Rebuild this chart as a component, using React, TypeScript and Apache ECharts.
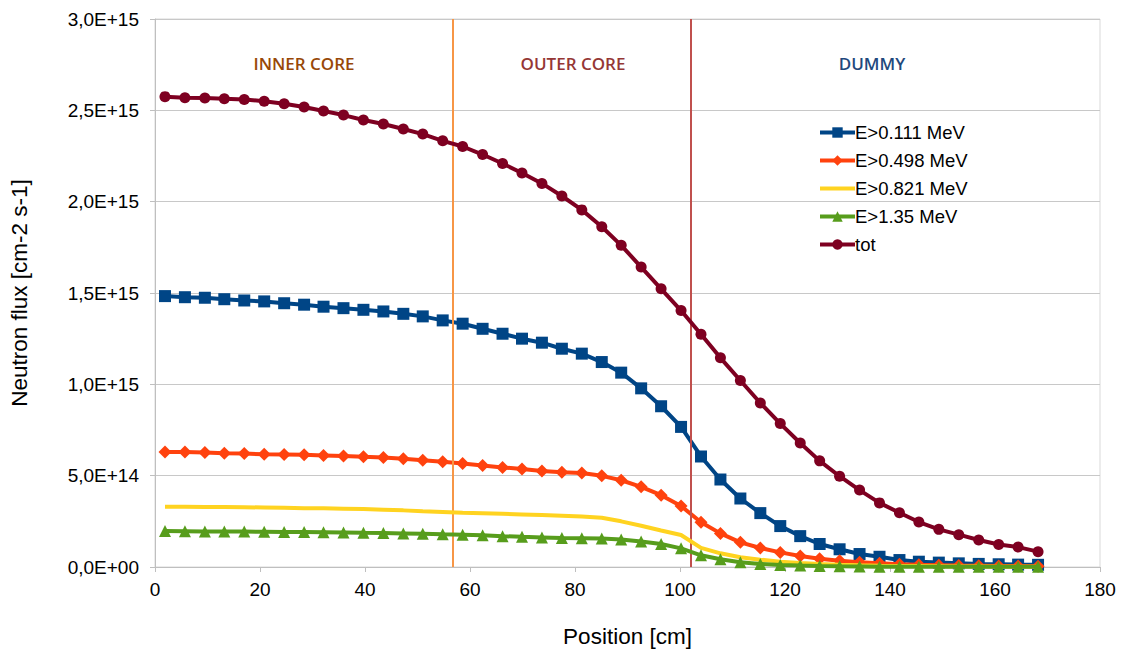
import React, { useEffect, useRef } from "react";
import * as echarts from "echarts";

const positions = [1.9, 5.7, 9.5, 13.2, 17.0, 20.8, 24.6, 28.4, 32.1, 35.9, 39.7, 43.5, 47.3, 51.0, 54.8, 58.6, 62.4, 66.2, 69.9, 73.7, 77.5, 81.3, 85.1, 88.8, 92.6, 96.4, 100.2, 104.0, 107.7, 111.5, 115.3, 119.1, 122.9, 126.6, 130.4, 134.2, 138.0, 141.8, 145.5, 149.3, 153.1, 156.9, 160.7, 164.4, 168.2];

// values in units of 1E+15
const e0111 = [1.483, 1.477, 1.474, 1.466, 1.459, 1.454, 1.444, 1.436, 1.425, 1.417, 1.408, 1.399, 1.386, 1.372, 1.350, 1.332, 1.304, 1.277, 1.250, 1.228, 1.195, 1.168, 1.122, 1.064, 0.978, 0.880, 0.767, 0.605, 0.479, 0.375, 0.295, 0.224, 0.169, 0.126, 0.097, 0.071, 0.056, 0.038, 0.029, 0.024, 0.020, 0.017, 0.015, 0.013, 0.012];
const e0498 = [0.630, 0.630, 0.627, 0.623, 0.621, 0.617, 0.616, 0.614, 0.611, 0.608, 0.603, 0.600, 0.592, 0.585, 0.576, 0.567, 0.556, 0.545, 0.537, 0.526, 0.519, 0.515, 0.499, 0.475, 0.439, 0.393, 0.334, 0.245, 0.184, 0.135, 0.104, 0.080, 0.060, 0.045, 0.034, 0.026, 0.020, 0.015, 0.012, 0.010, 0.008, 0.007, 0.006, 0.005, 0.004];
const e0821 = [0.330, 0.330, 0.329, 0.328, 0.327, 0.326, 0.324, 0.322, 0.321, 0.319, 0.317, 0.314, 0.310, 0.305, 0.301, 0.297, 0.294, 0.291, 0.288, 0.284, 0.280, 0.276, 0.270, 0.250, 0.226, 0.200, 0.175, 0.105, 0.075, 0.053, 0.040, 0.029, 0.022, 0.016, 0.012, 0.009, 0.007, 0.006, 0.005, 0.004, 0.003, 0.003, 0.002, 0.002, 0.002];
const e135 = [0.197, 0.196, 0.195, 0.195, 0.194, 0.193, 0.192, 0.191, 0.190, 0.189, 0.187, 0.186, 0.184, 0.182, 0.179, 0.177, 0.174, 0.169, 0.165, 0.162, 0.159, 0.158, 0.156, 0.151, 0.139, 0.126, 0.102, 0.064, 0.042, 0.026, 0.017, 0.011, 0.008, 0.006, 0.004, 0.003, 0.002, 0.002, 0.001, 0.001, 0.001, 0.001, 0.001, 0.001, 0.001];
const tot = [2.575, 2.569, 2.568, 2.564, 2.559, 2.550, 2.536, 2.518, 2.496, 2.474, 2.447, 2.425, 2.398, 2.370, 2.333, 2.302, 2.258, 2.209, 2.157, 2.100, 2.031, 1.955, 1.863, 1.761, 1.642, 1.523, 1.404, 1.274, 1.145, 1.021, 0.898, 0.785, 0.679, 0.581, 0.497, 0.421, 0.351, 0.297, 0.246, 0.206, 0.177, 0.148, 0.123, 0.109, 0.084];

const seriesNames = ["E>0.111 MeV", "E>0.498 MeV", "E>0.821 MeV", "E>1.35 MeV", "tot"];
const regionBounds = [56.7, 102.0];
const regionLabels = ["INNER CORE", "OUTER CORE", "DUMMY"];

const FONT = "'Liberation Sans', Arial, sans-serif";

function pairs(vals: number[]) {
  return vals.map((v, i) => [positions[i], v * 1e15]);
}

function fmtY(v: number) {
  if (v === 0) return "0,0E+00";
  const exp = Math.floor(Math.log10(v) + 1e-9);
  const mant = v / Math.pow(10, exp);
  const e = exp < 10 ? "0" + exp : String(exp);
  return mant.toFixed(1).replace(".", ",") + "E+" + e;
}

export default function App() {
  const ref = useRef<HTMLDivElement>(null);
  useEffect(() => {
    if (!ref.current) return;
    const chart = echarts.init(ref.current, null, { renderer: "svg" });
    const lineW = 4;
    const mk = (name: string, data: number[], color: string, symbol: string, size: number, z: number) => ({
      name,
      type: "line",
      data: pairs(data),
      symbol: symbol === "none" ? "circle" : symbol,
      symbolSize: size,
      showSymbol: symbol !== "none",
      z,
      lineStyle: { color, width: lineW },
      itemStyle: { color: symbol === "none" ? "rgba(0,0,0,0)" : color, borderWidth: 0 },
    });
    chart.setOption({
      animation: false,
      backgroundColor: "#ffffff",
      grid: { left: 154, right: 22, top: 19, bottom: 86, show: true, borderColor: "#d9d9d9", borderWidth: 1 },
      legend: {
        orient: "vertical",
        left: 818,
        top: 123,
        padding: 0,
        itemWidth: 35,
        itemHeight: 13,
        itemGap: 9,
        data: seriesNames,
        lineStyle: { width: 4 },
        textStyle: { fontFamily: FONT, fontSize: 18.5, color: "#000", padding: [0, 0, 0, -5] },
      },
      xAxis: {
        type: "value",
        min: 0,
        max: 180,
        interval: 20,
        name: "Position [cm]",
        nameLocation: "middle",
        nameGap: 58,
        nameTextStyle: { fontFamily: FONT, fontSize: 22.5, color: "#000" },
        axisLine: { show: true, lineStyle: { color: "#bfbfbf", width: 1 } },
        axisTick: { show: true, length: 5, lineStyle: { color: "#bfbfbf" } },
        axisLabel: { fontFamily: FONT, fontSize: 19, color: "#000", margin: 13 },
        splitLine: { show: false },
      },
      yAxis: {
        type: "value",
        min: 0,
        max: 3e15,
        interval: 5e14,
        name: "Neutron flux [cm-2 s-1]",
        nameLocation: "middle",
        nameGap: 124,
        nameTextStyle: { fontFamily: FONT, fontSize: 22.5, color: "#000" },
        axisLine: { show: true, lineStyle: { color: "#bfbfbf", width: 1 } },
        axisTick: { show: true, length: 5, lineStyle: { color: "#bfbfbf" } },
        axisLabel: { fontFamily: FONT, fontSize: 19, color: "#000", margin: 16, formatter: fmtY },
        splitLine: { show: true, lineStyle: { color: "#c8c8c8", width: 1 } },
      },
      series: [
        {
          ...mk(seriesNames[0], e0111, "#004586", "rect", 12, 3),
          markLine: {
            silent: true,
            symbol: "none",
            label: { show: false },
            data: [
              { xAxis: regionBounds[0], lineStyle: { color: "#F79646", width: 2, type: "solid" } },
              { xAxis: regionBounds[1], lineStyle: { color: "#C0504D", width: 2, type: "solid" } },
            ],
          },
        },
        mk(seriesNames[1], e0498, "#ff420e", "diamond", 13, 4),
        mk(seriesNames[2], e0821, "#ffd320", "none", 8, 5),
        mk(seriesNames[3], e135, "#579d1c", "triangle", 12, 6),
        mk(seriesNames[4], tot, "#7e0021", "circle", 11, 7),
      ],
      graphic: [
        { type: "text", x: 304, y: 63, style: { text: regionLabels[0], fill: "#984807", font: "600 17px 'Open Sans', sans-serif", align: "center", verticalAlign: "middle" } },
        { type: "text", x: 573, y: 63, style: { text: regionLabels[1], fill: "#953735", font: "600 17px 'Open Sans', sans-serif", align: "center", verticalAlign: "middle" } },
        { type: "text", x: 872, y: 63, style: { text: regionLabels[2], fill: "#1F497D", font: "600 17px 'Open Sans', sans-serif", align: "center", verticalAlign: "middle" } },
      ],
    });
    return () => chart.dispose();
  }, []);
  return <div ref={ref} style={{ position: "absolute", left: 0, top: 0, width: 1122, height: 653 }} />;
}
